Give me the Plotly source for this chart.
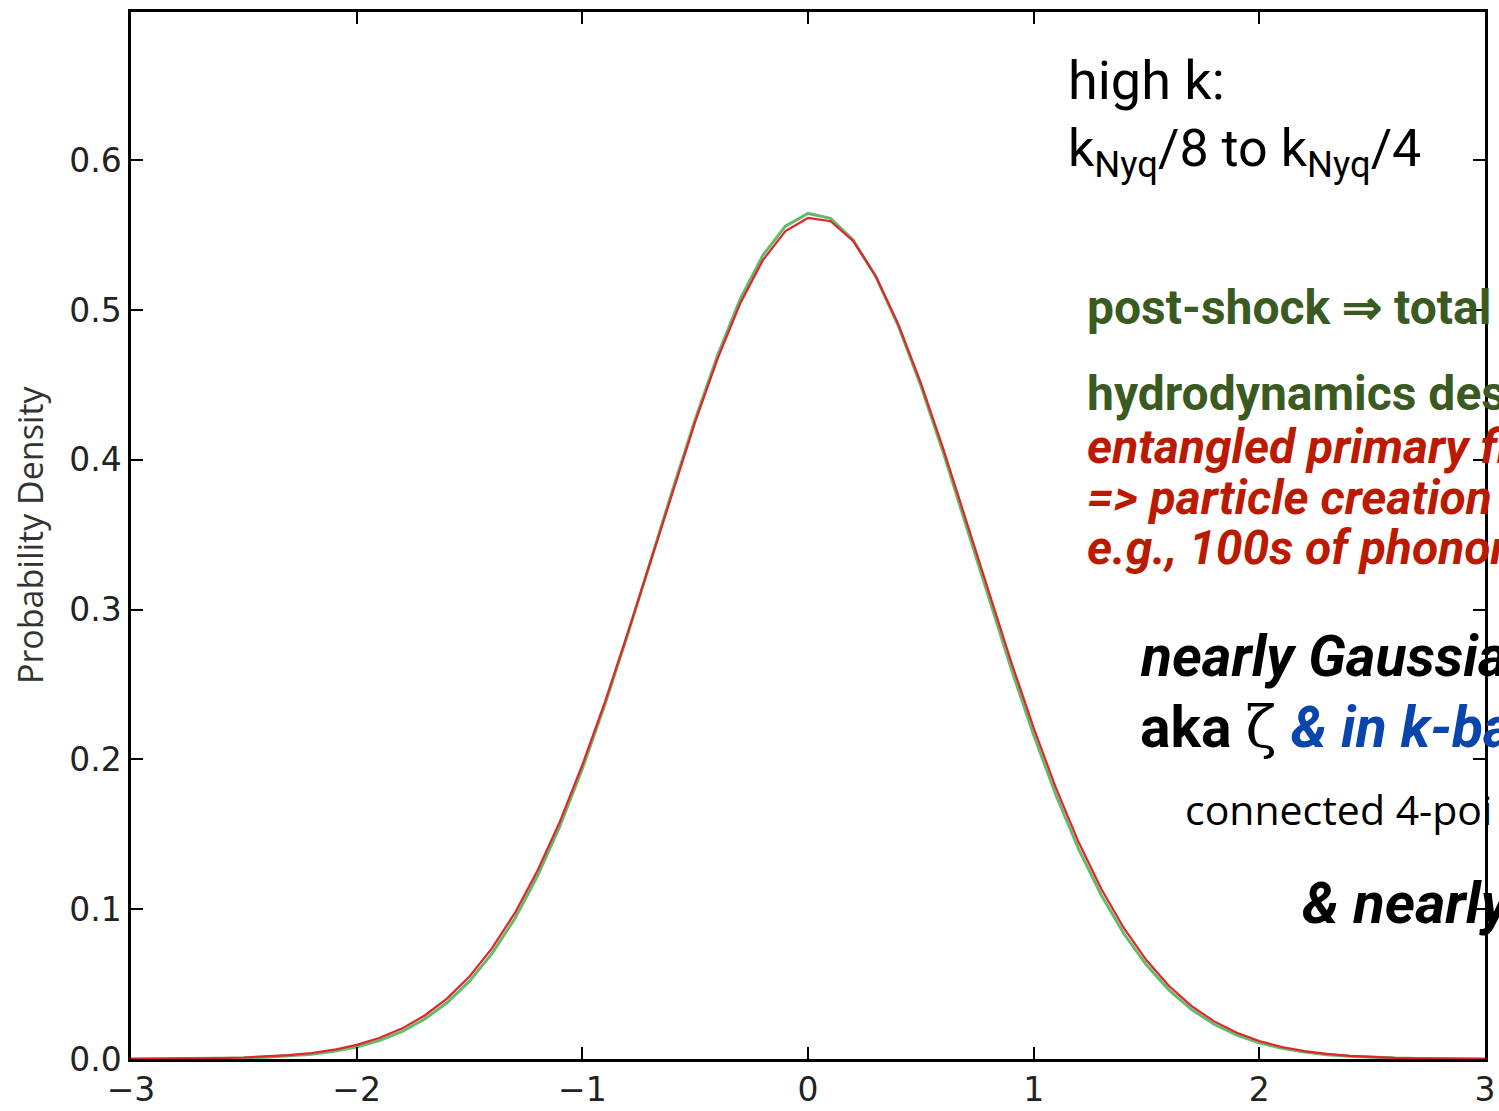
import plotly.graph_objects as go

# ---- data ----
x_vals = [-3.0, -2.9, -2.8, -2.7, -2.6, -2.5, -2.4, -2.3, -2.2, -2.1,
          -2.0, -1.9, -1.8, -1.7, -1.6, -1.5, -1.4, -1.3, -1.2, -1.1,
          -1.0, -0.9, -0.8, -0.7, -0.6, -0.5, -0.4, -0.3, -0.2, -0.1,
          0.0,
          0.1, 0.2, 0.3, 0.4, 0.5, 0.6, 0.7, 0.8, 0.9, 1.0,
          1.1, 1.2, 1.3, 1.4, 1.5, 1.6, 1.7, 1.8, 1.9, 2.0,
          2.1, 2.2, 2.3, 2.4, 2.5, 2.6, 2.7, 2.8, 2.9, 3.0]

red_density = [0.0001, 0.0001, 0.0002, 0.0003, 0.0006, 0.0010, 0.0016, 0.0026, 0.0040, 0.0062,
               0.0094, 0.0140, 0.0203, 0.0289, 0.0403, 0.0551, 0.0740, 0.0972, 0.1253, 0.1583,
               0.1963, 0.2383, 0.2838, 0.3313, 0.3791, 0.4253, 0.4678, 0.5045, 0.5333, 0.5527,
               0.5615,
               0.5593, 0.5461, 0.5228, 0.4906, 0.4514, 0.4072, 0.3600, 0.3121, 0.2653, 0.2210,
               0.1805, 0.1445, 0.1135, 0.0873, 0.0659, 0.0487, 0.0353, 0.0251, 0.0175, 0.0120,
               0.0080, 0.0053, 0.0034, 0.0021, 0.0013, 0.0008, 0.0005, 0.0003, 0.0002, 0.0001]

green_density = [0.0000, 0.0001, 0.0001, 0.0002, 0.0004, 0.0007, 0.0012, 0.0020, 0.0032, 0.0051,
                 0.0080, 0.0123, 0.0183, 0.0265, 0.0375, 0.0520, 0.0705, 0.0935, 0.1218, 0.1552,
                 0.1938, 0.2366, 0.2830, 0.3313, 0.3800, 0.4270, 0.4700, 0.5075, 0.5365, 0.5560,
                 0.5645,
                 0.5612, 0.5468, 0.5225, 0.4895, 0.4495, 0.4045, 0.3565, 0.3080, 0.2608, 0.2163,
                 0.1758, 0.1400, 0.1093, 0.0836, 0.0627, 0.0460, 0.0330, 0.0232, 0.0160, 0.0108,
                 0.0071, 0.0046, 0.0029, 0.0018, 0.0011, 0.0006, 0.0004, 0.0002, 0.0001, 0.0000]

x_ticks = [-3, -2, -1, 0, 1, 2, 3]
y_ticks = [0.0, 0.1, 0.2, 0.3, 0.4, 0.5, 0.6]
y_title = "Probability Density"

W, H = 1499, 1111
L, R, T, B = 131, 14, 12, 52
PW, PH = W - L - R, H - T - B


def px(xp):
    return (xp - L) / PW


def py(yp):
    return (H - B - yp) / PH


fig = go.Figure()
fig.add_trace(go.Scatter(x=x_vals, y=green_density, mode="lines",
                         line=dict(color="rgba(70,175,80,0.85)", width=3), showlegend=False))
fig.add_trace(go.Scatter(x=x_vals, y=red_density, mode="lines",
                         line=dict(color="#e3242b", width=2.2), showlegend=False))

FONT = "Roboto, Liberation Sans, Arial"
GREEN = "#3a5a22"
RED = "#bb1a00"
BLUE = "#0a45ad"

notes = [
    ("high k:", 1066, 80, 54, "black"),
    ("k<sub>Nyq</sub>/8 to k<sub>Nyq</sub>/4", 1066, 152, 52, "black"),
    ("<b>post-shock \u21d2 total</b>", 1085, 308, 48, GREEN),
    ("<b>hydrodynamics desc</b>", 1085, 393, 48, GREEN),
    ("<b><i>entangled primary fi</i></b>", 1085, 446, 48, RED),
    ("<b><i>=&gt; particle creation</i></b>", 1085, 497, 48, RED),
    ("<b><i>e.g., 100s of phonon</i></b>", 1085, 547, 48, RED),
    ("<b><i>nearly Gaussian</i></b>", 1138, 656, 57, "black"),
    ("<b>aka</b> <span style='font-family:DejaVu Serif'>\u03b6</span> "
     "<span style='color:" + BLUE + "'><b><i>&amp; in k-ba</i></b></span>", 1138, 727, 57, "black"),
    ("<b><i>&amp; nearly</i></b>", 1300, 903, 58, "black"),
]

for txt, xp, yp, size, col in notes:
    fig.add_annotation(text=txt, xref="paper", yref="paper", x=px(xp), y=py(yp),
                       xanchor="left", yanchor="middle", showarrow=False,
                       font=dict(family=FONT, size=size, color=col))

fig.add_annotation(text="connected 4-poi", xref="paper", yref="paper", x=px(1183), y=py(809),
                   xanchor="left", yanchor="middle", showarrow=False,
                   font=dict(family="Open Sans, Noto Sans, sans-serif", size=41, color="black"))

# y-axis title placed like the reference
fig.add_annotation(text=y_title, xref="paper", yref="paper", x=px(30), y=py(535),
                   xanchor="center", yanchor="middle", textangle=-90, showarrow=False,
                   font=dict(family="Open Sans, Noto Sans", size=34, color="#333"))

axis_common = dict(showline=True, linecolor="black", linewidth=2.5, mirror="ticks",
                   ticks="inside", ticklen=12, tickwidth=1.5, tickcolor="black",
                   showgrid=False, zeroline=False, automargin=False,
                   tickfont=dict(family="DejaVu Sans", size=33, color="#222"))

fig.update_layout(
    width=W, height=H,
    margin=dict(l=L, r=R, t=T, b=B),
    paper_bgcolor="white", plot_bgcolor="white",
    xaxis=dict(range=[-3, 3], tickvals=x_ticks, **axis_common),
    yaxis=dict(range=[0, 0.699], tickvals=y_ticks, tickformat=".1f", **axis_common),
)

fig.write_html("out.html")
